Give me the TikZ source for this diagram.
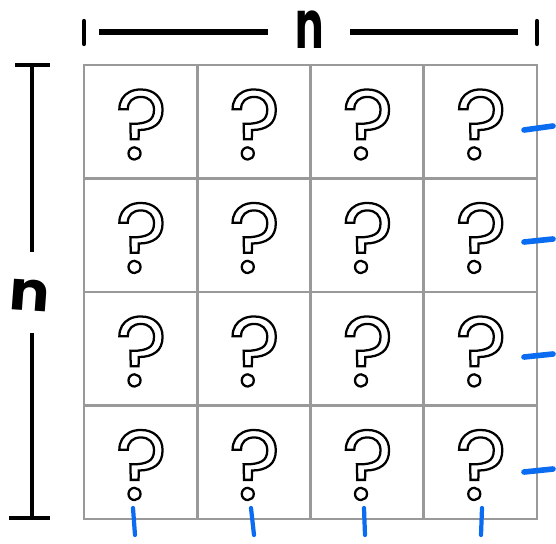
\documentclass[tikz,border=0pt]{standalone}
\usepackage{fontspec}
\newfontfamily\qmarkfont{Poppins}
\newfontfamily\dimfont{Poppins}
\definecolor{GridClr}{RGB}{153,153,153}
\definecolor{TallyClr}{RGB}{10,108,240}
% hollow glyphs: stroke the outline only
\newcommand{\hollow}[1]{\special{pdf:code 1 Tr 3.2 w}#1\special{pdf:code 0 Tr}}

\begin{document}
\begin{tikzpicture}[x=0.5mm,y=-0.5mm,
  gridline/.style={GridClr,line width=3.6pt,line cap=rect},
  dimline/.style={line width=7.5pt},
  dimlabel/.style={font=\dimfont\bfseries\fontsize{100}{100}\selectfont,inner sep=0pt},
  qmark/.style={font=\qmarkfont\fontsize{140}{140}\selectfont,inner sep=0pt},
  tally/.style={TallyClr,line width=8pt,line cap=round}]
\useasboundingbox (0,0) rectangle (556,543);

% the n x n board
\foreach \i in {0,...,4}{
  \draw[gridline] (84+113.25*\i,65) -- (84+113.25*\i,519);
  \draw[gridline] (84,65+113.5*\i) -- (537,65+113.5*\i);
}
\foreach \r in {0,...,3}
  \foreach \c in {0,...,3}
    \node[qmark] (q-\r-\c) at (141.5+113.25*\c,124.5+113.5*\r) {\hollow{?}};

% width
\node[dimlabel,xscale=.6,yscale=.95] (ntop) at (310,30) {n};
\coordinate (top-a) at (99,32);  \coordinate (top-b) at (268,32);
\coordinate (top-c) at (350,32); \coordinate (top-d) at (518,32);
\draw[dimline] (top-a) -- (top-b) (top-c) -- (top-d);
\draw[dimline,line width=6pt,line cap=round] (84,21) -- (84,44) (537,21) -- (537,44);

% height
\node[dimlabel,xscale=.85,yscale=.78,rotate=-4] (nleft) at (30,295) {n};
\coordinate (left-a) at (32,65);  \coordinate (left-b) at (32,252);
\coordinate (left-c) at (32,333); \coordinate (left-d) at (32,518);
\draw[dimline,line width=6.5pt] (left-a) -- (left-b) (left-c) -- (left-d);
\draw[dimline,line width=7pt] (15,65) -- (50,65) (9,518) -- (50,518);

% blue tallies
\foreach \y/\d in {130/4,242/3,357/3,472/3}
  \draw[tally] (524,\y) -- (553,\y-\d);
\foreach \x/\d in {133/2,251/3,364/1,482/-1}
  \draw[tally,line width=6pt] (\x,508) -- (\x+\d,535);
\end{tikzpicture}
\end{document}
